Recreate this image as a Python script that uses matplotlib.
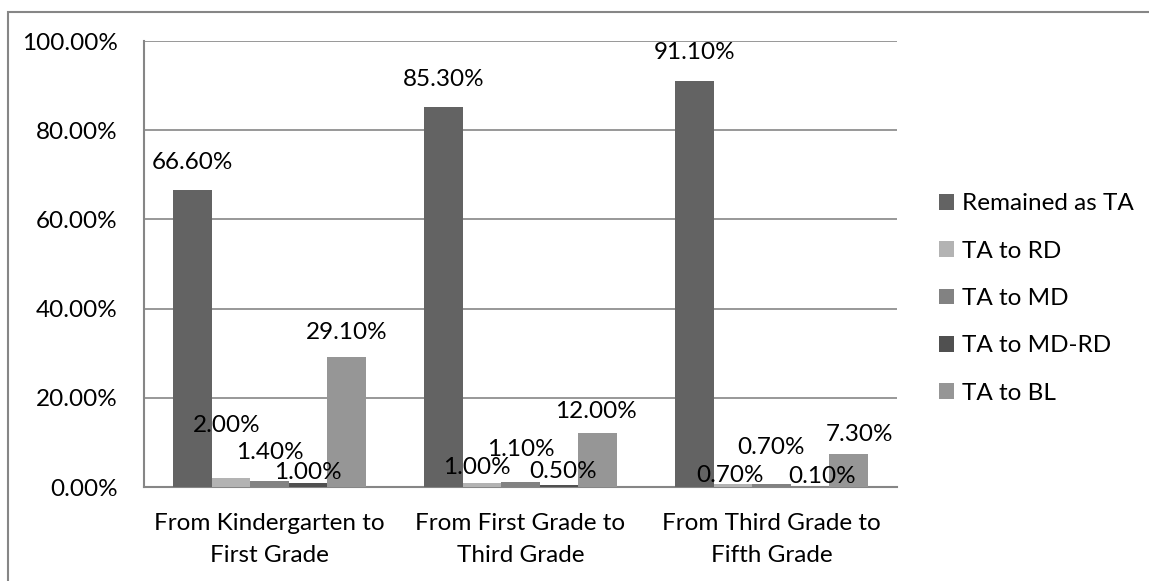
import numpy as np
import matplotlib.pyplot as plt
from matplotlib.patches import Patch, Rectangle

plt.rcParams['font.family'] = ['Lato', 'DejaVu Sans']

# transition categories and the share of students per outcome
categories = ['From Kindergarten to\nFirst Grade',
              'From First Grade to\nThird Grade',
              'From Third Grade to\nFifth Grade']
series_names = ['Remained as TA', 'TA to RD', 'TA to MD', 'TA to MD-RD', 'TA to BL']
remained_ta = [66.6, 85.3, 91.1]
ta_to_rd = [2.0, 1.0, 0.7]
ta_to_md = [1.4, 1.1, 0.7]
ta_to_md_rd = [1.0, 0.5, 0.1]
ta_to_bl = [29.1, 12.0, 7.3]
y_ticks = [0, 20, 40, 60, 80, 100]

series = [remained_ta, ta_to_rd, ta_to_md, ta_to_md_rd, ta_to_bl]
colors = ['#636363', '#b3b3b3', '#828282', '#505050', '#969696']

# label nudges (pixels) so the small values don't sit on each other
label_shift = [
    [(0, 27), (0, 27), (0, 28)],
    [(-4, 53), (-5, 15), (-3, 8)],
    [(0, 28), (0, 33), (0, 36)],
    [(0, 10), (4, 13), (12, 10)],
    [(0, 25), (-2, 22), (11, 20)],
]

fs = 17.5
grey = '#868686'

fig = plt.figure(figsize=(11.49, 5.81), dpi=100)
ax = fig.add_axes([144 / 1149, 1 - 487 / 581, (897 - 144) / 1149, (487 - 41) / 581])

x = np.arange(len(categories))
w = 1 / 6.5
for i, (name, vals) in enumerate(zip(series_names, series)):
    pos = x + (i - 2) * w
    ax.bar(pos, vals, width=w, color=colors[i], label=name, zorder=3)
    for j, v in enumerate(vals):
        dx, dy = label_shift[i][j]
        ax.annotate('%.2f%%' % v, (pos[j], v), xytext=(dx, dy),
                    textcoords='offset pixels', ha='center', va='center',
                    fontsize=fs, color='black', zorder=4)

ax.set_xlim(-0.5, len(categories) - 0.5)
ax.set_ylim(0, 100)
ax.set_yticks(y_ticks)
ax.set_yticklabels(['%.2f%%' % t for t in y_ticks])
ax.set_xticks(x)
ax.set_xticklabels(categories, linespacing=1.65)
ax.tick_params(axis='y', length=0, pad=19, labelsize=fs)
ax.tick_params(axis='x', length=0, pad=18.5, labelsize=fs)
ax.grid(axis='y', color=grey, linewidth=1.2, zorder=0)
ax.set_axisbelow(True)
for s in ['top', 'right']:
    ax.spines[s].set_visible(False)
for s in ['left', 'bottom']:
    ax.spines[s].set_color(grey)
    ax.spines[s].set_linewidth(1.5)

handles = [Patch(facecolor=c, edgecolor='none') for c in colors]
fig.legend(handles, series_names, loc='center left',
           bbox_to_anchor=(939 / 1149, 1 - 298.5 / 581), frameon=False,
           fontsize=fs, handlelength=0.62, handleheight=0.62,
           handletextpad=0.33, labelspacing=1.08, borderpad=0, borderaxespad=0)

# outer chart border
fig.add_artist(Rectangle((8 / 1149, -0.2), 1.2, 1.2 - 11.5 / 581,
                         transform=fig.transFigure, fill=False,
                         edgecolor=grey, linewidth=1.5))

fig.savefig('out.png', dpi=100)
